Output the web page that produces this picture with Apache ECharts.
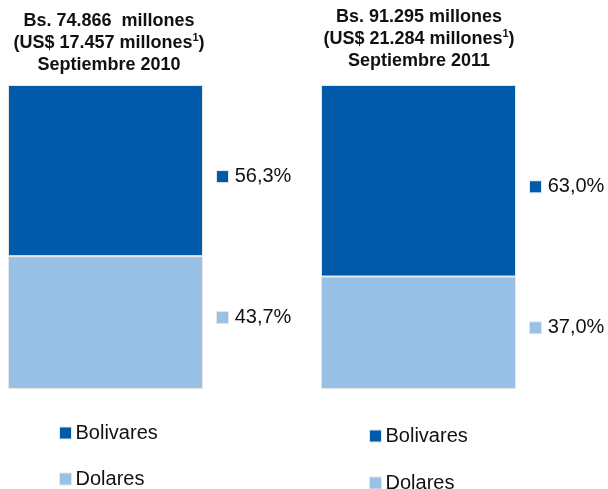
<!DOCTYPE html>
<html><head><meta charset="utf-8">
<script src="https://cdn.jsdelivr.net/npm/echarts@6/dist/echarts.min.js"></script>
<style>html,body{margin:0;padding:0;background:#fff}#c{width:608px;height:489px}</style>
</head><body><div id="c"></div>
<script>
const periods = ['Septiembre 2010', 'Septiembre 2011'];
const totalBs = ['74.866 ', '91.295'];
const totalUsd = ['17.457', '21.284'];
const seriesNames = ['Bolivares', 'Dolares'];
const bolivares = [56.3, 63.0];
const dolares = [43.7, 37.0];

const colors = { Bolivares: '#0059a9', Dolares: '#99c1e5' };
const labelOffset = { Bolivares: [0, 6], Dolares: [0, -5] };
const fmt = v => v.toFixed(1).replace('.', ',') + '%';
const FONT = 'Liberation Sans, Arial, sans-serif';

const chart = echarts.init(document.getElementById('c'));
const grids = [
  { left: 8, top: 85, width: 195, height: 304 },
  { left: 321, top: 85, width: 195, height: 304 }
];
const titleX = [109, 419];
const titleTop = [10, 6];

const series = [];
periods.forEach((p, i) => {
  [['Dolares', dolares], ['Bolivares', bolivares]].forEach(([name, arr]) => {
    series.push({
      name, type: 'bar', stack: 's' + i, xAxisIndex: i, yAxisIndex: i,
      barWidth: '100%', data: [arr[i]],
      itemStyle: { color: colors[name], borderColor: '#e6e6e6', borderWidth: 1 },
      label: {
        show: true, position: 'right', distance: 14, offset: labelOffset[name],
        formatter: p2 => '{sq|}  {v|' + fmt(p2.value) + '}',
        rich: {
          sq: { width: 11, height: 11, backgroundColor: colors[name], borderColor: '#e6e6e6', borderWidth: 1 },
          v: { fontSize: 20, color: '#111', fontFamily: FONT }
        }
      }
    });
  });
});

const legendPos = [
  { left: 59, top: 423, name: 'Bolivares' },
  { left: 59, top: 469, name: 'Dolares' },
  { left: 369, top: 426, name: 'Bolivares' },
  { left: 369, top: 473, name: 'Dolares' }
];

chart.setOption({
  animation: false,
  title: periods.map((p, i) => ({
    left: titleX[i], top: titleTop[i], textAlign: 'center', padding: 0,
    text: '{b|Bs. ' + totalBs[i] + ' millones}\n{b|(US$ ' + totalUsd[i] + ' millones}{s|1}{b|)}\n{b|' + p + '}',
    textStyle: {
      rich: {
        b: { fontSize: 18, fontWeight: 'bold', color: '#111', fontFamily: FONT, lineHeight: 22 },
        s: { fontSize: 11, fontWeight: 'bold', color: '#111', fontFamily: FONT, verticalAlign: 'top', lineHeight: 22, padding: [0, 0, 9, 0] }
      }
    }
  })),
  legend: legendPos.map(l => ({
    left: l.left, top: l.top, padding: 0, data: [l.name], icon: 'rect', itemWidth: 12, itemHeight: 12,
    selectedMode: false,
    itemStyle: { borderColor: '#e6e6e6', borderWidth: 1 },
    textStyle: { fontSize: 20, color: '#111', fontFamily: FONT, padding: [0, 0, 0, -1] }
  })),
  grid: grids,
  xAxis: grids.map((g, i) => ({ type: 'category', gridIndex: i, data: [periods[i]], show: false })),
  yAxis: grids.map((g, i) => ({ type: 'value', gridIndex: i, min: 0, max: 100, show: false })),
  series
});
</script></body></html>
